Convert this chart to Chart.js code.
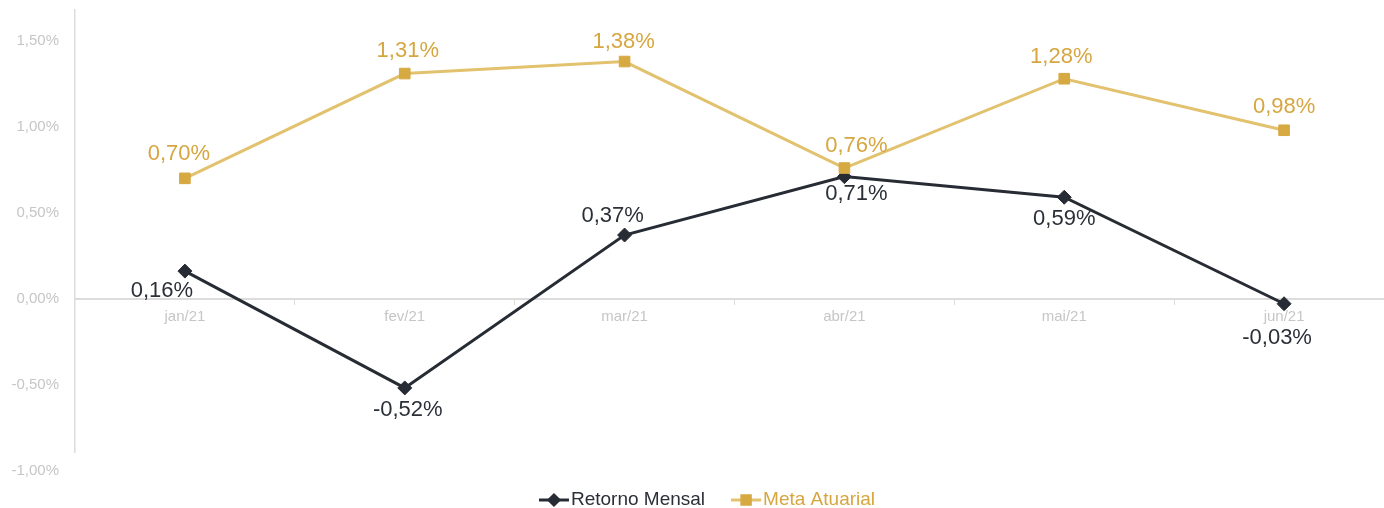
<!DOCTYPE html>
<html>
<head>
<meta charset="utf-8">
<title>Retorno Mensal x Meta Atuarial</title>
<script src="https://cdn.jsdelivr.net/npm/chart.js@4.4.0/dist/chart.umd.min.js"></script>
<style>
    html, body { margin: 0; padding: 0; background: #fff; overflow: hidden; }
    #wrap { width: 1414px; height: 508px; }
</style>
</head>
<body>
<div id="wrap"><canvas id="chart" width="1414" height="508"></canvas></div>
<script>
const months = ['jan/21', 'fev/21', 'mar/21', 'abr/21', 'mai/21', 'jun/21'];
const retornoMensal = [0.16, -0.52, 0.37, 0.71, 0.59, -0.03];
const metaAtuarial = [0.70, 1.31, 1.38, 0.76, 1.28, 0.98];
const yTicks = [-1.0, -0.5, 0, 0.5, 1.0, 1.5];

// label nudges relative to each point (px)
const retornoLabelOffsets = [[-23, 20], [3, 22], [-12, -19], [12, 17], [0, 22], [-7, 34]];
const metaLabelOffsets = [[-6, -24], [3, -23], [-1, -20], [12, -22], [-3, -22], [0, -23]];

const COLORS = {
    dark: '#272c34',
    darkText: '#2b3038',
    goldLine: '#e2c26e',
    goldMarker: '#d6a942',
    goldText: '#d6a640',
    axis: '#dcdcdc',
    tick: '#c6c6c6'
};

Chart.defaults.font.family = "'Liberation Sans', Arial, sans-serif";

const fmt = v => v.toFixed(2).replace('.', ',') + '%';

const valueLabels = {
    id: 'valueLabels',
    afterDatasetsDraw(chart) {
        const ctx = chart.ctx;
        ctx.save();
        ctx.font = "22px 'Liberation Sans', Arial, sans-serif";
        ctx.textAlign = 'center';
        ctx.textBaseline = 'middle';
        chart.data.datasets.forEach((ds, i) => {
            const meta = chart.getDatasetMeta(i);
            meta.data.forEach((pt, j) => {
                const [dx, dy] = ds.labelOffsets[j];
                ctx.fillStyle = ds.labelColor;
                ctx.fillText(fmt(ds.data[j]), pt.x + dx, pt.y + dy);
            });
        });
        ctx.restore();
    }
};

const lineLegend = {
    id: 'lineLegend',
    afterDraw(chart) {
        const ctx = chart.ctx;
        const items = [
            { text: 'Retorno Mensal', line: COLORS.dark, marker: COLORS.dark, textColor: COLORS.darkText, style: 'rectRot', r: 5 },
            { text: 'Meta Atuarial', line: COLORS.goldLine, marker: COLORS.goldMarker, textColor: COLORS.goldText, style: 'rect', r: 6 }
        ];
        ctx.save();
        ctx.font = "19px 'Liberation Sans', Arial, sans-serif";
        ctx.textBaseline = 'middle';
        const symW = 30, gap = 2, itemGap = 26;
        const widths = items.map(it => symW + gap + ctx.measureText(it.text).width);
        const total = widths.reduce((a, b) => a + b, 0) + itemGap * (items.length - 1);
        let x = chart.width / 2 - total / 2;
        const y = 500;
        items.forEach((it, i) => {
            ctx.strokeStyle = it.line;
            ctx.lineWidth = 3;
            ctx.beginPath();
            ctx.moveTo(x, y);
            ctx.lineTo(x + symW, y);
            ctx.stroke();
            ctx.fillStyle = it.marker;
            ctx.strokeStyle = it.marker;
            Chart.helpers.drawPoint(ctx, { pointStyle: it.style, radius: it.r, rotation: 0, borderWidth: 1 }, x + symW / 2, y);
            ctx.fillStyle = it.textColor;
            ctx.textAlign = 'left';
            ctx.fillText(it.text, x + symW + gap, y);
            x += widths[i] + itemGap;
        });
        ctx.restore();
    }
};

new Chart(document.getElementById('chart'), {
    type: 'line',
    data: {
        labels: months,
        datasets: [
            {
                label: 'Retorno Mensal',
                data: retornoMensal,
                order: 1,
                borderColor: COLORS.dark,
                backgroundColor: COLORS.dark,
                borderWidth: 3,
                pointStyle: 'rectRot',
                pointRadius: 7,
                pointHoverRadius: 7,
                pointBackgroundColor: COLORS.dark,
                pointBorderColor: COLORS.dark,
                pointBorderWidth: 1,
                tension: 0,
                labelColor: COLORS.darkText,
                labelOffsets: retornoLabelOffsets
            },
            {
                label: 'Meta Atuarial',
                data: metaAtuarial,
                order: 0,
                borderColor: COLORS.goldLine,
                backgroundColor: COLORS.goldMarker,
                borderWidth: 3,
                pointStyle: 'rect',
                pointRadius: 7.5,
                pointHoverRadius: 7.5,
                pointBackgroundColor: COLORS.goldMarker,
                pointBorderColor: COLORS.goldMarker,
                pointBorderWidth: 1,
                tension: 0,
                labelColor: COLORS.goldText,
                labelOffsets: metaLabelOffsets
            }
        ]
    },
    options: {
        responsive: false,
        animation: false,
        layout: { padding: { top: 10, right: 20, bottom: 56, left: 0 } },
        plugins: {
            legend: { display: false },
            tooltip: { enabled: false }
        },
        scales: {
            x: {
                position: { y: 0 },
                offset: true,
                grid: {
                    display: true,
                    drawOnChartArea: false,
                    drawTicks: true,
                    tickLength: 5,
                    offset: true,
                    color: COLORS.axis,
                    lineWidth: 1
                },
                border: { display: true, color: COLORS.axis, width: 2 },
                afterFit: scale => {
                    scale.paddingTop = 0;
                    scale.paddingBottom = 0;
                },
                ticks: {
                    color: COLORS.tick,
                    font: { size: 15 },
                    padding: 4,
                    maxRotation: 0
                }
            },
            y: {
                min: -0.893,
                max: 1.68,
                grid: { display: false },
                border: { display: true, color: COLORS.axis, width: 1.5 },
                afterBuildTicks: scale => {
                    scale.ticks = yTicks.map(v => ({ value: v }));
                },
                afterFit: scale => {
                    scale.width = 75;
                    scale.paddingTop = 0;
                    scale.paddingBottom = 0;
                },
                ticks: {
                    color: COLORS.tick,
                    font: { size: 15 },
                    padding: 8,
                    callback: v => fmt(v)
                }
            }
        }
    },
    plugins: [valueLabels, lineLegend]
});
</script>
</body>
</html>
